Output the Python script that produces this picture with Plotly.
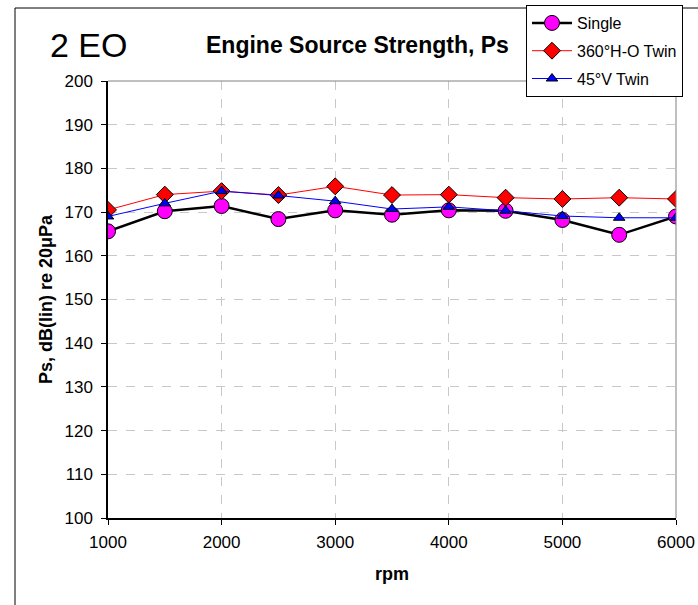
import plotly.graph_objects as go

# Engine speed (rpm) and source strength levels, dB(lin) re 20 µPa, 2nd engine order
rpm = [1000, 1500, 2000, 2500, 3000, 3500, 4000, 4500, 5000, 5500, 6000]
single = [165.6, 170.2, 171.4, 168.4, 170.4, 169.4, 170.4, 170.3, 168.2, 164.8, 169.0]
ho_twin = [170.5, 174.0, 174.8, 173.9, 175.9, 173.9, 174.0, 173.3, 173.0, 173.3, 173.0]
v_twin = [169.0, 172.0, 174.8, 173.8, 172.5, 170.7, 171.2, 170.3, 169.1, 168.7, 168.7]

y_ticks = list(range(100, 201, 10))
x_ticks = list(range(1000, 6001, 1000))

FONT = "Liberation Sans, Arial, sans-serif"

fig = go.Figure()

fig.add_trace(go.Scatter(
    x=rpm, y=single, name="Single", mode="lines+markers", legendgroup="a",
    line=dict(color="black", width=2.5),
    marker=dict(symbol="circle", size=15, color="#FF00FF",
                line=dict(color="black", width=1)),
))
fig.add_trace(go.Scatter(
    x=rpm, y=ho_twin, name="360°H-O Twin", mode="lines+markers", legendgroup="b",
    line=dict(color="#FF0000", width=1),
    marker=dict(symbol="diamond", size=13, color="#FF0000",
                line=dict(color="black", width=1)),
))
fig.add_trace(go.Scatter(
    x=rpm, y=v_twin, name="45°V Twin", mode="lines+markers", legendgroup="c",
    line=dict(color="#0000FF", width=1),
    marker=dict(symbol="triangle-up", size=10, color="#0000FF",
                line=dict(color="black", width=1)),
))

W, H = 698, 605
ml, mr, mt, mb = 108, 22, 81, 87
pw, ph = W - ml - mr, H - mt - mb

def px_x(p):
    return (p - ml) / pw

def px_y(p):
    return (H - mb - p) / ph

fig.update_layout(
    width=W, height=H,
    margin=dict(l=ml, r=mr, t=mt, b=mb, autoexpand=False),
    paper_bgcolor="white", plot_bgcolor="white",
    font=dict(family=FONT, size=17, color="black"),
    showlegend=True,
    legend=dict(
        xref="container", yref="container",
        x=526 / W, y=1 - 5 / H, xanchor="left", yanchor="top",
        bgcolor="white", bordercolor="black", borderwidth=1,
        font=dict(family=FONT, size=16, color="black"),
        tracegroupgap=4, itemwidth=40,
    ),
    xaxis=dict(
        range=[1000, 6000], tickvals=x_ticks, ticks="outside", ticklen=5,
        tickcolor="black", showline=True, linecolor="black", linewidth=1.5,
        showgrid=True, gridcolor="#C8C8C8", griddash="dash", gridwidth=1,
        zeroline=False, tickfont=dict(size=17), ticklabelstandoff=3,
        title=dict(text="<b>rpm</b>", font=dict(size=18), standoff=16),
    ),
    yaxis=dict(
        range=[100, 200], tickvals=y_ticks, ticks="outside", ticklen=5,
        tickcolor="black", showline=True, linecolor="black", linewidth=1.5,
        showgrid=True, gridcolor="#C8C8C8", griddash="dash", gridwidth=1,
        zeroline=False, tickfont=dict(size=17), ticklabelstandoff=5,
        title=dict(text="<b>Ps, dB(lin) re 20μPa</b>", font=dict(size=18), standoff=7),
    ),
    shapes=[
        # outer chart frame
        dict(type="rect", xref="paper", yref="paper",
             x0=px_x(15), x1=px_x(700), y0=px_y(610), y1=px_y(8),
             line=dict(color="black", width=1), fillcolor="rgba(0,0,0,0)", layer="below"),
        # top and right edges of plot area
        dict(type="line", xref="paper", yref="paper", x0=0, x1=1, y0=1, y1=1,
             line=dict(color="#808080", width=1)),
        dict(type="line", xref="paper", yref="paper", x0=1, x1=1, y0=0, y1=1,
             line=dict(color="#808080", width=1)),
    ],
    annotations=[
        dict(text="2 EO", xref="paper", yref="paper", x=px_x(48), y=px_y(45),
             xanchor="left", yanchor="middle", showarrow=False,
             font=dict(family=FONT, size=34, color="black")),
        dict(text="<b>Engine Source Strength, Ps</b>", xref="paper", yref="paper",
             x=px_x(357), y=px_y(45), xanchor="center", yanchor="middle",
             showarrow=False, font=dict(family=FONT, size=23, color="black")),
    ],
)

fig.write_html("out.html")
